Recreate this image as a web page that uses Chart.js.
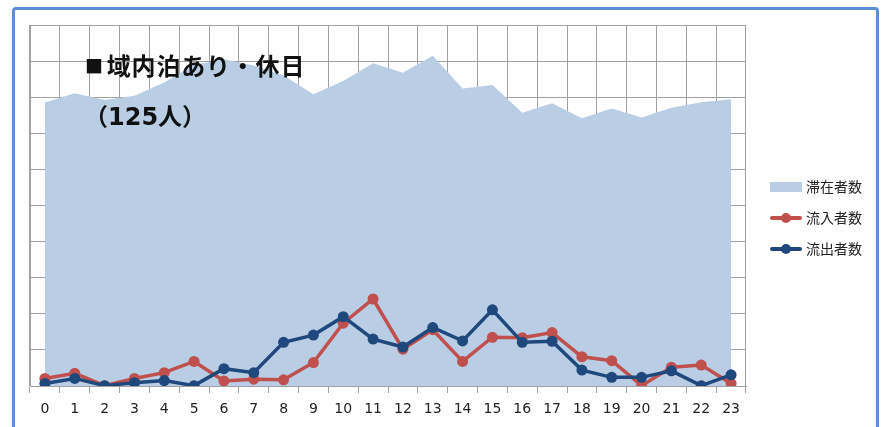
<!DOCTYPE html>
<html>
<head>
<meta charset="utf-8">
<script src="https://cdn.jsdelivr.net/npm/chart.js@4.4.1/dist/chart.umd.min.js"></script>
<style>
  body { margin: 0; background: #fff; }
  #wrap { position: relative; width: 886px; height: 427px; overflow: hidden; background: #fff; }
  #frame { position: absolute; left: 12px; top: 7px; width: 867px; height: 440px;
           border: 3px solid #5b8fd8; border-radius: 4px; box-sizing: border-box; pointer-events: none; }
  .title { position: absolute; font: bold 24px "Noto Sans CJK JP", sans-serif; line-height: 24px; color: #111; white-space: nowrap; }
  .title .sq { font-size: 18px; vertical-align: 2px; margin-right: 3px; }
  .title.t1 { letter-spacing: 0.8px; }
  .title.t2 { font-family: "DejaVu Sans", "Noto Sans CJK JP", sans-serif; }
  #legend { position: absolute; left: 770px; top: 172px; font: 14px "Noto Sans CJK JP", sans-serif; color: #222; }
  .item { position: relative; height: 31px; width: 110px; }
  .item span { position: absolute; left: 36px; top: 6px; line-height: 16px; white-space: nowrap; }
  .swatch { position: absolute; left: 0; top: 10px; width: 32px; height: 10px; }
  .ln { position: absolute; left: 0; top: 13px; width: 32px; height: 4px; border-radius: 2px; }
  .dot { position: absolute; left: 11px; top: 10px; width: 10px; height: 10px; border-radius: 50%; }
</style>
</head>
<body>
<div id="wrap">
  <canvas id="chart" width="886" height="427"></canvas>
  <div class="title t1" style="left:85px;top:53px;"><span class="sq">■</span>域内泊あり・休日</div>
  <div class="title t2" style="left:84px;top:105px;">（125人）</div>
  <div id="legend"></div>
  <div id="frame"></div>
</div>
<script>
// hours 0..23
const hours = ["0","1","2","3","4","5","6","7","8","9","10","11","12","13","14","15","16","17","18","19","20","21","22","23"];

// 滞在者数 (area)
const stayValues = [7.85, 8.11, 7.92, 8.04, 8.41, 8.9, 9.05, 8.88, 8.6, 8.08, 8.45, 8.94,
                    8.68, 9.15, 8.24, 8.34, 7.57, 7.83, 7.42, 7.69, 7.44, 7.71, 7.86, 7.94];

// 流入者数
const inflowValues = [0.21, 0.35, 0.01, 0.21, 0.37, 0.68, 0.14, 0.19, 0.17, 0.65, 1.74, 2.41,
                      1.02, 1.56, 0.68, 1.35, 1.34, 1.48, 0.81, 0.70, 0.01, 0.52, 0.58, 0.07];

// 流出者数
const outflowValues = [0.07, 0.21, 0.01, 0.09, 0.15, 0.01, 0.48, 0.37, 1.21, 1.41, 1.92, 1.30,
                       1.08, 1.62, 1.25, 2.11, 1.21, 1.24, 0.44, 0.24, 0.24, 0.42, 0.01, 0.31];

const gridColor = "#a0a0a0";

const chart = new Chart(document.getElementById("chart").getContext("2d"), {
    type: "line",
    data: {
        labels: hours,
        datasets: [{
            label: "滞在者数",
            data: stayValues,
            fill: "origin",
            backgroundColor: "#b9cde5",
            borderWidth: 0,
            pointRadius: 0,
            order: 3
        }, {
            label: "流入者数",
            data: inflowValues,
            borderColor: "#c0504d",
            backgroundColor: "#c0504d",
            borderWidth: 3.5,
            pointRadius: 5.5,
            pointBorderWidth: 0,
            pointBackgroundColor: "#c0504d",
            fill: false,
            order: 2
        }, {
            label: "流出者数",
            data: outflowValues,
            borderColor: "#1f497d",
            backgroundColor: "#1f497d",
            borderWidth: 3.5,
            pointRadius: 5.5,
            pointBorderWidth: 0,
            pointBackgroundColor: "#1f497d",
            fill: false,
            order: 1
        }]
    },
    options: {
        responsive: false,
        animation: false,
        layout: { padding: { left: 30, right: 140, top: 25, bottom: 0 } },
        plugins: { legend: { display: false }, tooltip: { enabled: false } },
        scales: {
            x: {
                offset: true,
                grid: { offset: true, color: gridColor, lineWidth: 1, tickLength: 7 },
                border: { color: gridColor },
                ticks: { color: "#222", font: { family: "DejaVu Sans", size: 14 }, padding: 8, maxRotation: 0, autoSkip: false },
                afterFit: (scale) => { scale.height = 41; }
            },
            y: {
                min: 0,
                max: 10,
                ticks: { display: false, stepSize: 1 },
                grid: { color: gridColor, lineWidth: 1, drawTicks: false },
                border: { color: gridColor },
                afterFit: (scale) => { scale.width = 0; }
            }
        }
    }
});

// legend built from the datasets
const legend = document.getElementById("legend");
chart.data.datasets.forEach((ds, i) => {
    const item = document.createElement("div");
    item.className = "item";
    if (i === 0) {
        item.innerHTML = `<div class="swatch" style="background:${ds.backgroundColor}"></div>`;
    } else {
        item.innerHTML = `<div class="ln" style="background:${ds.borderColor}"></div><div class="dot" style="background:${ds.borderColor}"></div>`;
    }
    const label = document.createElement("span");
    label.textContent = ds.label;
    item.appendChild(label);
    legend.appendChild(item);
});
</script>
</body>
</html>
